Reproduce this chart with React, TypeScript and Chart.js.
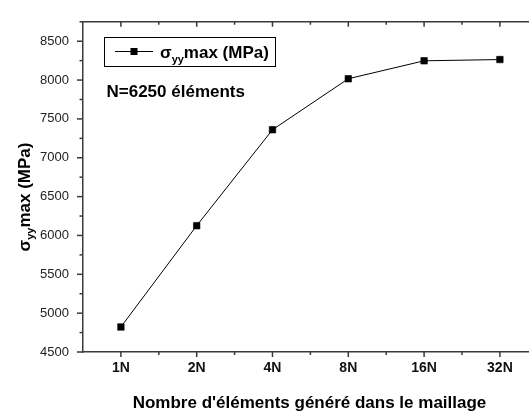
import React, { useEffect, useRef } from "react";
import { Chart, registerables } from "chart.js";

Chart.register(...registerables);

const categories = ["1N", "2N", "4N", "8N", "16N", "32N"];
const sigmaValues = [4822, 6126, 7361, 8017, 8248, 8264];
const yMin = 4500;
const yMax = 8750;
const yTickValues = [4500, 5000, 5500, 6000, 6500, 7000, 7500, 8000, 8500];
const yMinorStep = 250;
const legendLabelMain = "σ";
const legendLabelSub = "yy";
const legendLabelRest = "max (MPa)";
const annotationText = "N=6250 éléments";
const xTitle = "Nombre d'éléments généré dans le maillage";

const FONT = "'Liberation Sans', Arial, sans-serif";
const AXIS = "#3a3a3a";

const decorPlugin = {
  id: "decor",
  afterDraw(chart: any) {
    const { ctx, chartArea } = chart;
    const { left, right, top, bottom } = chartArea;
    const xs = chart.scales.x;
    const ys = chart.scales.y;
    ctx.save();
    ctx.strokeStyle = AXIS;
    ctx.lineWidth = 1.5;
    // top frame line
    ctx.beginPath();
    ctx.moveTo(left, top);
    ctx.lineTo(right, top);
    ctx.stroke();
    // x ticks (bottom outward, top inward)
    const n = categories.length;
    for (let i = 0; i < n; i++) {
      const px = xs.getPixelForValue(i);
      ctx.beginPath();
      ctx.moveTo(px, bottom);
      ctx.lineTo(px, bottom + 5);
      ctx.moveTo(px, top);
      ctx.lineTo(px, top + 5);
      ctx.stroke();
      if (i < n - 1) {
        const mx = (px + xs.getPixelForValue(i + 1)) / 2;
        ctx.beginPath();
        ctx.moveTo(mx, bottom);
        ctx.lineTo(mx, bottom + 3);
        ctx.moveTo(mx, top);
        ctx.lineTo(mx, top + 3);
        ctx.stroke();
      }
    }
    // y ticks
    for (let v = yMin; v <= yMax; v += yMinorStep) {
      const py = ys.getPixelForValue(v);
      const major = yTickValues.includes(v);
      ctx.beginPath();
      ctx.moveTo(left, py);
      ctx.lineTo(left - (major ? 6 : 3.5), py);
      ctx.stroke();
    }

    // legend box
    ctx.lineWidth = 1;
    ctx.strokeStyle = "#000";
    ctx.strokeRect(104.5, 37.5, 171, 29);
    ctx.beginPath();
    ctx.moveTo(115, 51.5);
    ctx.lineTo(153, 51.5);
    ctx.stroke();
    ctx.fillStyle = "#000";
    ctx.fillRect(130.5, 48, 7, 7);
    ctx.textBaseline = "alphabetic";
    ctx.textAlign = "left";
    let tx = 160;
    ctx.font = `bold 17px ${FONT}`;
    ctx.fillText(legendLabelMain, tx, 58);
    tx += ctx.measureText(legendLabelMain).width;
    ctx.font = `bold 11px ${FONT}`;
    ctx.fillText(legendLabelSub, tx, 62.5);
    tx += ctx.measureText(legendLabelSub).width;
    ctx.font = `bold 17px ${FONT}`;
    ctx.fillText(legendLabelRest, tx, 58);

    // annotation
    ctx.font = `bold 17px ${FONT}`;
    ctx.fillText(annotationText, 106.5, 96.5);

    // x title
    ctx.textAlign = "center";
    ctx.font = `bold 17px ${FONT}`;
    ctx.fillText(xTitle, 309.5, 408);

    // y title (rotated, with subscript)
    ctx.save();
    ctx.translate(29.5, 197);
    ctx.rotate(-Math.PI / 2);
    ctx.textAlign = "left";
    ctx.font = `bold 17px ${FONT}`;
    const w1 = ctx.measureText(legendLabelMain).width;
    const w3 = ctx.measureText(legendLabelRest).width;
    ctx.font = `bold 11px ${FONT}`;
    const w2 = ctx.measureText(legendLabelSub).width;
    let sx = -(w1 + w2 + w3) / 2;
    ctx.font = `bold 17px ${FONT}`;
    ctx.fillText(legendLabelMain, sx, 0);
    sx += w1;
    ctx.font = `bold 11px ${FONT}`;
    ctx.fillText(legendLabelSub, sx, 4.5);
    sx += w2;
    ctx.font = `bold 17px ${FONT}`;
    ctx.fillText(legendLabelRest, sx, 0);
    ctx.restore();

    ctx.restore();
  },
};

export default function App() {
  const ref = useRef<HTMLCanvasElement>(null);
  useEffect(() => {
    if (!ref.current) return;
    const chart = new Chart(ref.current, {
      type: "line",
      data: {
        labels: categories,
        datasets: [
          {
            data: sigmaValues,
            borderColor: "#000",
            borderWidth: 1,
            pointStyle: "rect",
            pointRadius: 4.6,
            pointBackgroundColor: "#000",
            pointBorderColor: "#000",
            pointBorderWidth: 0.6,
            tension: 0,
          },
        ],
      },
      options: {
        responsive: true,
        maintainAspectRatio: false,
        animation: false,
        layout: { padding: { top: 13, left: 0, right: 0, bottom: 0 } },
        plugins: { legend: { display: false }, tooltip: { enabled: false } },
        scales: {
          x: {
            type: "category",
            offset: true,
            grid: { display: true, drawOnChartArea: false, drawTicks: false },
            border: { display: true, color: AXIS, width: 1.5 },
            ticks: {
              font: { family: FONT, size: 14, weight: "bold" },
              color: "#111",
              padding: 8,
              maxRotation: 0,
              autoSkip: false,
            },
            afterFit: (s: any) => {
              s.height = 60;
            },
          },
          y: {
            min: yMin,
            max: yMax,
            grid: { display: true, drawOnChartArea: false, drawTicks: false },
            border: { display: true, color: AXIS, width: 1.5 },
            afterBuildTicks: (s: any) => {
              s.ticks = yTickValues.map((v) => ({ value: v }));
            },
            ticks: {
              autoSkip: false,
              callback: (v: any) => String(v),
              font: { family: FONT, size: 13 },
              color: "#222",
              padding: 14,
            },
            afterFit: (s: any) => {
              s.width = 83;
            },
          },
        },
      },
      plugins: [decorPlugin],
    });
    return () => chart.destroy();
  }, []);
  return (
    <div
      style={{
        position: "fixed",
        left: 0,
        top: 0,
        width: 529,
        height: 412,
        overflow: "hidden",
        background: "#fff",
      }}
    >
      <div style={{ position: "relative", width: 543, height: 412 }}>
        <canvas ref={ref} />
      </div>
    </div>
  );
}
